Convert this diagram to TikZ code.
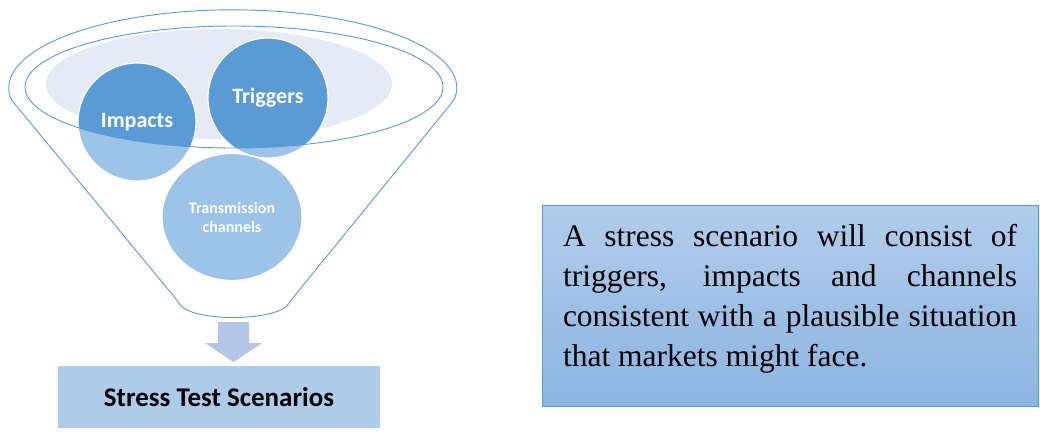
\documentclass[tikz,border=0pt]{standalone}
\usepackage{fontspec}
\setmainfont{Liberation Serif}
\setsansfont{Carlito}
\usetikzlibrary{positioning, shapes.geometric}
\definecolor{funnelblue}{HTML}{5B9BD5}
\definecolor{paleblue}{HTML}{9DC3E6}
\definecolor{mistblue}{HTML}{E4EBF6}
\definecolor{arrowblue}{HTML}{B4C7E7}
\definecolor{boxblue}{HTML}{AFCBEA}
\definecolor{notetop}{HTML}{B2CDEB}
\definecolor{notebottom}{HTML}{8DB4E2}
\tikzset{rim/.style = {draw = funnelblue, line width = 0.9pt}}
\tikzset{bubble/.style = {shape = circle, fill = paleblue, draw = white, line width = 1.2pt, text = white, inner sep = 0pt,
	font = \sffamily\bfseries\fontsize{22pt}{24pt}\selectfont,
	path picture = {\fill[funnelblue] (rimc) ellipse [x radius = 209pt, y radius = 61pt];}}}

\begin{document}
\begin{tikzpicture}[x = 1pt, y = -1pt]
				\useasboundingbox (0, 0) rectangle (1040, 434);

				% funnel body
				\draw[rim, fill = white] (454, 100) arc [start angle = -9, end angle = 189, x radius = 224pt, y radius = 78pt]
					-- (172, 294) .. controls (178, 302) .. (182, 307)
					.. controls (200, 321) and (266, 321) .. (286, 307)
					.. controls (290, 302) .. (296, 294) -- cycle;
				\coordinate (rimc) at (234, 87);
				\fill[mistblue] (219, 84) ellipse [x radius = 173pt, y radius = 55pt];

				\node[bubble, minimum size = 118pt] (impacts) at (137, 122) {Impacts};
				\node[bubble, minimum size = 120pt] (triggers) at (268, 98) {Triggers};
				\node[bubble, shape = ellipse, minimum width = 140pt, minimum height = 127pt, align = center,
					font = \sffamily\bfseries\fontsize{16pt}{19pt}\selectfont] (channels) at (232, 217) {Transmission\\channels};

				\draw[rim] (rimc) ellipse [x radius = 209pt, y radius = 61pt];

				% arrow into the result box
				\fill[arrowblue] (218, 322) -- (249, 322) -- (249, 343) -- (262, 343) -- (233.5, 362)
					-- (205, 343) -- (218, 343) -- cycle;

				\node[fill = boxblue, minimum width = 322pt, minimum height = 62pt, inner sep = 0pt,
					font = \sffamily\bfseries\fontsize{27pt}{30pt}\selectfont] (scenarios) at (219, 397) {Stress Test Scenarios};

				\node[draw = funnelblue, line width = 0.9pt, top color = notetop, bottom color = notebottom,
					minimum width = 496pt, minimum height = 201pt] (note) at (790, 305.5) {};
				\node[text width = 454pt, align = justify, inner sep = 0pt,
					font = \fontsize{31.5pt}{40pt}\selectfont] (notetext) at (790, 298.5)
					{A stress scenario will consist of\linebreak triggers, impacts and channels\linebreak
					consistent with a plausible situation\linebreak that markets might face.};
			\end{tikzpicture}
\end{document}
